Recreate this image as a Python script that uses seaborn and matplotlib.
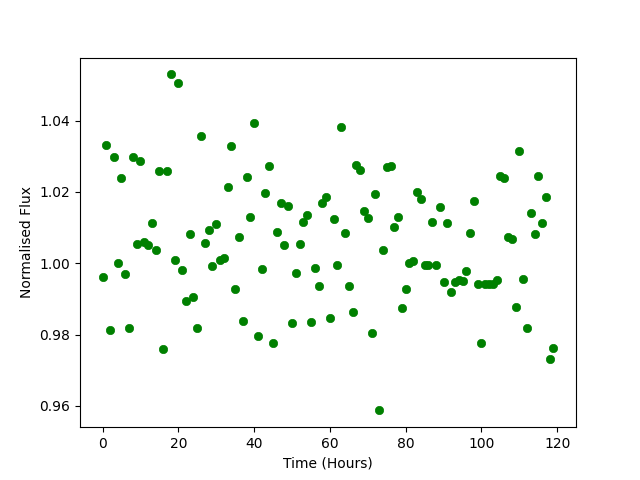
import numpy as np
import pandas as pd
import matplotlib
matplotlib.use("Agg")
import matplotlib.pyplot as plt
import seaborn as sns

# hourly time axis and normalised flux readings
hours = list(range(120))
flux = [
    0.9962, 1.0331, 0.9814, 1.0299, 1.0002, 1.0238, 0.9971, 0.9817, 1.0297, 1.0055,
    1.0288, 1.0060, 1.0052, 1.0114, 1.0038, 1.0258, 0.9760, 1.0260, 1.0530, 1.0008,
    1.0505, 0.9982, 0.9893, 1.0081, 0.9906, 0.9817, 1.0356, 1.0058, 1.0092, 0.9992,
    1.0109, 1.0008, 1.0016, 1.0213, 1.0328, 0.9927, 1.0075, 0.9839, 1.0241, 1.0131,
    1.0393, 0.9797, 0.9985, 1.0198, 1.0272, 0.9777, 1.0089, 1.0168, 1.0050, 1.0162,
    0.9833, 0.9974, 1.0055, 1.0117, 1.0134, 0.9836, 0.9988, 0.9937, 1.0168, 1.0187,
    0.9845, 1.0123, 0.9994, 1.0381, 1.0086, 0.9937, 0.9864, 1.0277, 1.0263, 1.0148,
    1.0126, 0.9805, 1.0193, 0.9587, 1.0038, 1.0269, 1.0272, 1.0103, 1.0131, 0.9873,
    0.9929, 1.0002, 1.0005, 1.0201, 1.0179, 0.9996, 0.9994, 1.0117, 0.9996, 1.0159,
    0.9946, 1.0114, 0.9918, 0.9946, 0.9954, 0.9951, 0.9979, 1.0086, 1.0176, 0.9943,
    0.9777, 0.9943, 0.9943, 0.9943, 0.9954, 1.0246, 1.0238, 1.0075, 1.0069, 0.9876,
    1.0314, 0.9957, 0.9817, 1.0140, 1.0081, 1.0244, 1.0114, 1.0187, 0.9732, 0.9763,
]


def main():
    data = pd.DataFrame({"Time (Hours)": hours, "Normalised Flux": flux})

    fig, ax = plt.subplots(figsize=(6.4, 4.8), dpi=100)
    sns.scatterplot(data=data, x="Time (Hours)", y="Normalised Flux",
                    color="green", edgecolor="green", linewidth=0.5, s=36, ax=ax)

    ax.set_xticks([0, 20, 40, 60, 80, 100, 120])
    ax.set_yticks([0.96, 0.98, 1.00, 1.02, 1.04])

    plt.savefig("out.png", dpi=100)


if __name__ == "__main__":
    main()
